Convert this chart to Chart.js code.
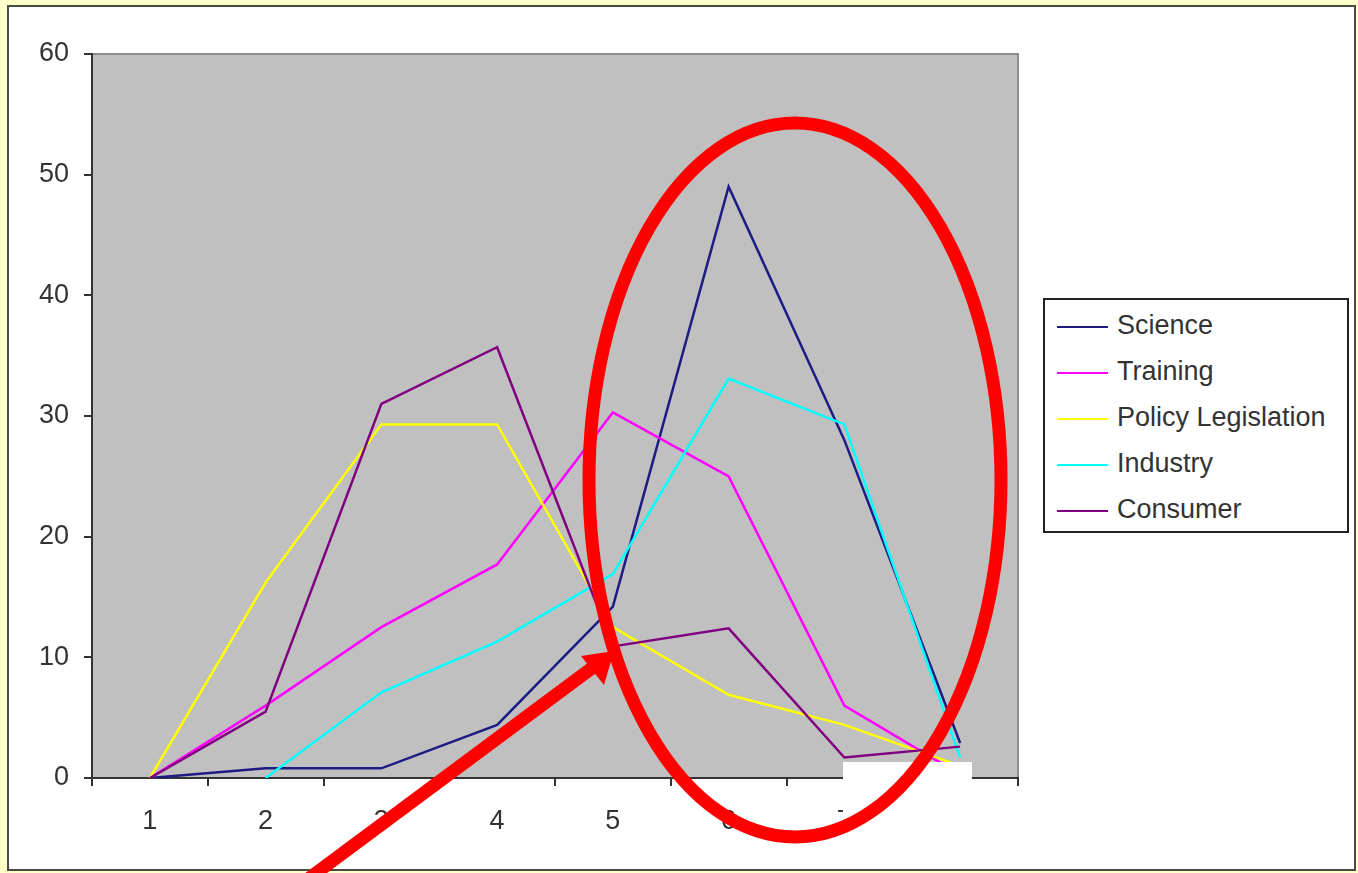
<!DOCTYPE html>
<html>
<head>
<meta charset="utf-8">
<script src="https://cdn.jsdelivr.net/npm/chart.js@4/dist/chart.umd.min.js"></script>
<style>
  html, body { margin: 0; padding: 0; background: #ffffcc; }
  #wrap { position: relative; width: 1358px; height: 873px; }
  #c { position: absolute; left: 0; top: 0; }
  #legend {
    position: absolute; left: 1043px; top: 298px; width: 306px; height: 235px;
    border: 2px solid #222; background: #fff; box-sizing: border-box;
    font-family: "Liberation Sans", Arial, sans-serif; font-size: 27px; color: #333;
  }
  .item { position: absolute; left: 12px; height: 30px; line-height: 30px; white-space: nowrap; }
  .item span.sw { display: inline-block; width: 51px; height: 2px; vertical-align: middle; margin-right: 9px; }
</style>
</head>
<body>
<div id="wrap">
  <canvas id="c" width="1358" height="873"></canvas>
  <div id="legend"></div>
</div>
<script>
const categories = ["1", "2", "3", "4", "5", "6", "7", "8"];
const seriesNames = ["Science", "Training", "Policy Legislation", "Industry", "Consumer"];
const science = [0, 0.8, 0.8, 4.4, 14.2, 49, 28, 2.9];
const training = [0, 6, 12.5, 17.7, 30.3, 25, 6, 0.3];
const policy = [0, 16.2, 29.3, 29.3, 12.5, 6.9, 4.4, 1];
const industry = [null, 0, 7.1, 11.3, 16.9, 33.1, 29.3, 1.7];
const consumer = [0, 5.5, 31, 35.7, 10.9, 12.4, 1.7, 2.6];
const yTicks = [0, 10, 20, 30, 40, 50, 60];

const colors = ["#1c1c84", "#ff00ff", "#ffff00", "#00ffff", "#800080"];
const values = [science, training, policy, industry, consumer];

const ctx = document.getElementById("c").getContext("2d");

// page frame + gray plot area
const backdrop = {
  id: "backdrop",
  beforeDraw(chart) {
    const c = chart.ctx, a = chart.chartArea;
    c.save();
    c.fillStyle = "#ffffcc";
    c.fillRect(0, 0, 1358, 873);
    c.fillStyle = "#ffffff";
    c.fillRect(7, 5, 1349, 866);
    c.strokeStyle = "#4a4a44";
    c.lineWidth = 2;
    c.strokeRect(8, 6, 1347, 864);
    c.fillStyle = "#c0c0c0";
    c.fillRect(a.left, a.top, a.right - a.left, a.bottom - a.top);
    c.strokeStyle = "#8c8c8c";
    c.lineWidth = 2;
    c.beginPath();
    c.moveTo(a.left, a.top);
    c.lineTo(a.right, a.top);
    c.lineTo(a.right, a.bottom);
    c.stroke();
    c.restore();
  }
};

// hand-drawn annotations on top of the chart
const marks = {
  id: "marks",
  afterDraw(chart) {
    const c = chart.ctx;
    c.save();
    c.fillStyle = "#ffffff";
    c.fillRect(843, 762, 129, 107);
    c.strokeStyle = "#ff0000";
    c.lineWidth = 13;
    c.beginPath();
    c.ellipse(795, 480, 206, 357, 0, 0, Math.PI * 2);
    c.stroke();
    // arrow
    c.lineWidth = 13;
    c.beginPath();
    c.moveTo(300, 885);
    c.lineTo(592, 668);
    c.stroke();
    c.fillStyle = "#ff0000";
    c.beginPath();
    c.moveTo(614, 651);
    c.lineTo(581, 656);
    c.lineTo(604, 685);
    c.closePath();
    c.fill();
    c.restore();
  }
};

const chart = new Chart(ctx, {
  type: "line",
  data: {
    labels: categories,
    datasets: seriesNames.map((name, i) => ({
      label: name,
      data: values[i],
      borderColor: colors[i],
      backgroundColor: colors[i],
      borderWidth: 2.5,
      pointRadius: 0,
      tension: 0,
      spanGaps: false,
      order: 4 - i
    }))
  },
  options: {
    responsive: false,
    animation: false,
    events: [],
    layout: { padding: { left: 0, top: 54, right: 340, bottom: 0 } },
    plugins: { legend: { display: false }, tooltip: { enabled: false } },
    scales: {
      x: {
        offset: true,
        grid: { offset: true, drawOnChartArea: false, tickLength: 8, color: "#333", lineWidth: 2 },
        border: { color: "#333", width: 2 },
        ticks: { color: "#333", padding: 19, maxRotation: 0, font: { family: "Liberation Sans", size: 27 } },
        afterFit(s) { s.height = 95; }
      },
      y: {
        min: 0, max: 60,
        afterBuildTicks(s) { s.ticks = yTicks.map(v => ({ value: v })); },
        grid: { drawOnChartArea: false, tickLength: 8, color: "#333", lineWidth: 2 },
        border: { color: "#333", width: 2 },
        ticks: { color: "#333", padding: 15, font: { family: "Liberation Sans", size: 27 } },
        afterFit(s) { s.width = 92; }
      }
    }
  },
  plugins: [backdrop, marks]
});

// legend as html text
const legend = document.getElementById("legend");
const rowTops = [10, 56, 102, 148, 194];
seriesNames.forEach((name, i) => {
  const d = document.createElement("div");
  d.className = "item";
  d.style.top = rowTops[i] + "px";
  d.innerHTML = '<span class="sw" style="background:' + colors[i] + '"></span>' + name;
  legend.appendChild(d);
});
</script>
</body>
</html>
